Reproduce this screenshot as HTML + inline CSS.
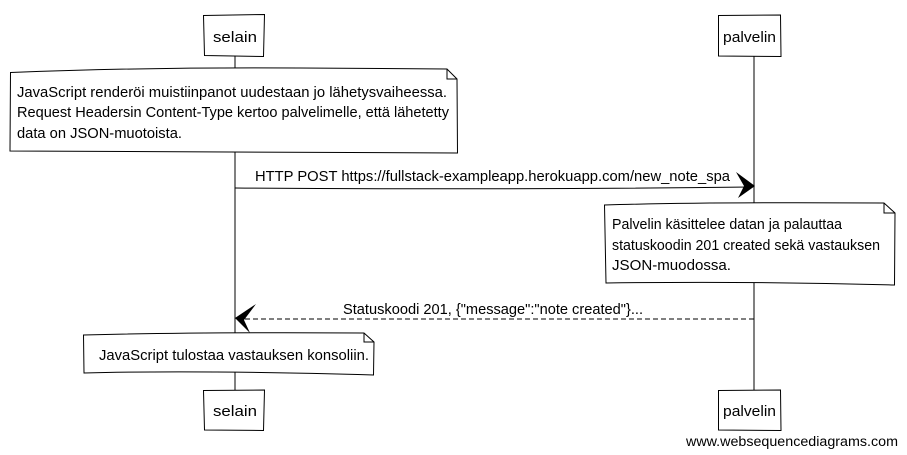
<!DOCTYPE html>
<html><head><meta charset="utf-8"><style>
html,body{margin:0;padding:0;background:#fff;}
svg{display:block;}
text{font-family:"Liberation Sans",sans-serif;font-size:14.5px;fill:#000;}
</style></head><body>
<svg width="907" height="455" viewBox="0 0 907 455" xmlns="http://www.w3.org/2000/svg">
<g stroke="#000" stroke-width="1" fill="none">
<line x1="235" y1="56" x2="235" y2="390"/>
<line x1="754" y1="56" x2="754" y2="390"/>
</g>
<g stroke="#000" stroke-width="1" fill="#fff">
<path d="M203.5 15.5 L264.5 14.5 L263.5 56.5 L204.5 55.5 Z"/>
<path d="M718.5 15.5 L780.5 15 L781 56.5 L718.5 56 Z"/>
<path d="M203.5 390.5 L264.5 390 L263.5 430.5 L204.5 430 Z"/>
<path d="M718.5 390.5 L780.5 390 L781 430.5 L718.5 430 Z"/>
<path d="M10.5 72.5 Q150 67 300 68 L447 69 L457 79 L457.5 153 L10 151 Z"/>
<path d="M447 69 L447 79 L457 79" fill="none"/>
<path d="M604.5 205 Q700 202 884 203 L895 213 L894.5 285 Q750 281 606 283 Z"/>
<path d="M884 203 L884 213 L895 213" fill="none"/>
<path d="M83.5 335 Q200 332 364 333 L374 342 L373.5 375 Q200 370 84 373 Z"/>
<path d="M364 333 L364 342 L374 342" fill="none"/>
</g>
<path d="M235 188 Q500 190 750 187" stroke="#000" stroke-width="1" fill="none"/>
<path d="M736 172 L755 186 L738 198 L744 186 Z" fill="#000"/>
<path d="M754 319 L240 319" stroke="#000" stroke-width="1" stroke-dasharray="5,3" fill="none"/>
<path d="M256 304 L235 318 L250 333 L244 320 Z" fill="#000"/>
<text x="213" y="42" textLength="44" lengthAdjust="spacingAndGlyphs">selain</text>
<text x="723" y="42" textLength="53" lengthAdjust="spacingAndGlyphs">palvelin</text>
<text x="213" y="416" textLength="44" lengthAdjust="spacingAndGlyphs">selain</text>
<text x="723" y="416" textLength="53" lengthAdjust="spacingAndGlyphs">palvelin</text>
<text x="17" y="97" textLength="430" lengthAdjust="spacingAndGlyphs">JavaScript renderöi muistiinpanot uudestaan jo lähetysvaiheessa.</text>
<text x="17" y="117" textLength="432" lengthAdjust="spacingAndGlyphs">Request Headersin Content-Type kertoo palvelimelle, että lähetetty</text>
<text x="17" y="138" textLength="165" lengthAdjust="spacingAndGlyphs">data on JSON-muotoista.</text>
<text x="255" y="181" textLength="475" lengthAdjust="spacingAndGlyphs">HTTP POST https://fullstack-exampleapp.herokuapp.com/new_note_spa</text>
<text x="612" y="229" textLength="230" lengthAdjust="spacingAndGlyphs">Palvelin käsittelee datan ja palauttaa</text>
<text x="612" y="250" textLength="268" lengthAdjust="spacingAndGlyphs">statuskoodin 201 created sekä vastauksen</text>
<text x="612" y="270" textLength="119" lengthAdjust="spacingAndGlyphs">JSON-muodossa.</text>
<text x="343" y="314" textLength="300" lengthAdjust="spacingAndGlyphs">Statuskoodi 201, {"message":"note created"}...</text>
<text x="99" y="360" textLength="270" lengthAdjust="spacingAndGlyphs">JavaScript tulostaa vastauksen konsoliin.</text>
<text x="686" y="446" textLength="212" lengthAdjust="spacingAndGlyphs" style="font-size:13.5px">www.websequencediagrams.com</text>
</svg>
</body></html>
